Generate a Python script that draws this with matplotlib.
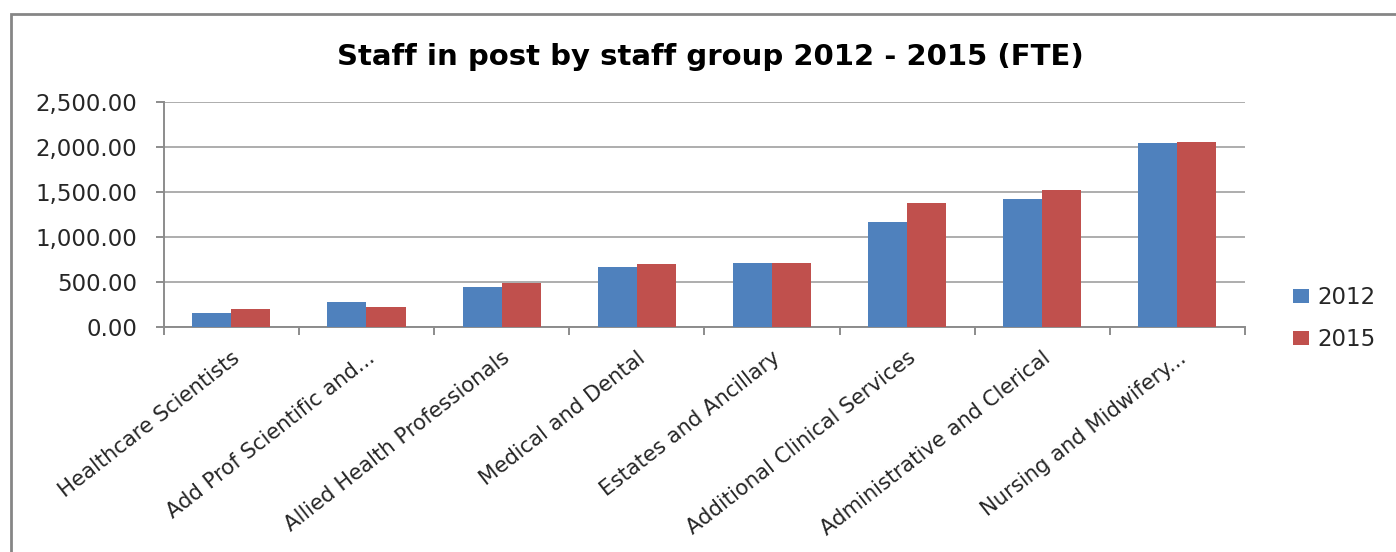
import matplotlib
matplotlib.use("Agg")
import matplotlib.pyplot as plt
import numpy as np
from matplotlib.patches import Rectangle
from matplotlib.ticker import FuncFormatter, FixedLocator

plt.rcParams['font.family'] = ['DejaVu Sans']

categories = [
    "Healthcare Scientists",
    "Add Prof Scientific and...",
    "Allied Health Professionals",
    "Medical and Dental",
    "Estates and Ancillary",
    "Additional Clinical Services",
    "Administrative and Clerical",
    "Nursing and Midwifery...",
]
fte_2012 = [156, 271, 442, 669, 706, 1170, 1423, 2047]
fte_2015 = [193, 219, 487, 695, 707, 1382, 1523, 2058]
series_names = ["2012", "2015"]
y_ticks = [0, 500, 1000, 1500, 2000, 2500]

W, H = 1396, 552
fig = plt.figure(figsize=(W / 100, H / 100), dpi=100)
fig.patch.set_facecolor("white")

# chart frame (only top and left edges fall inside the canvas)
fig.patches.append(Rectangle((11 / W, -0.05), 1.2, 1 - 14 / H + 0.05,
                             transform=fig.transFigure, fill=False,
                             edgecolor="#868686", linewidth=2, clip_on=False))

ax = fig.add_axes([163.7 / W, 1 - 326.7 / H, (1245 - 163.7) / W, (326.7 - 102.3) / H])

x = np.arange(len(categories))
bw = 0.289
ax.bar(x - bw / 2, fte_2012, width=bw, color="#4F81BD", label=series_names[0], zorder=3)
ax.bar(x + bw / 2, fte_2015, width=bw, color="#C0504D", label=series_names[1], zorder=3)

ax.set_xlim(-0.5, len(categories) - 0.5)
ax.set_ylim(0, 2500)
ax.set_yticks(y_ticks)
ax.yaxis.set_major_formatter(FuncFormatter(lambda v, p: f"{v:,.2f}"))
ax.grid(axis="y", color="#ADADAD", linewidth=1.4, zorder=0)

for s in ["top", "right"]:
    ax.spines[s].set_visible(False)
for s in ["left", "bottom"]:
    ax.spines[s].set_color("#8C8C8C")
    ax.spines[s].set_linewidth(1.4)

ax.tick_params(axis="y", length=5.8, width=1.4, color="#8C8C8C", labelsize=16.5,
               labelcolor="#262626", pad=13.5)
ax.set_xticks(x)
ax.set_xticklabels(categories, rotation=38, ha="right", rotation_mode="anchor",
                   fontsize=15.2, color="#262626")
ax.tick_params(axis="x", which="major", length=0, pad=15)
ax.xaxis.set_minor_locator(FixedLocator(np.arange(-0.5, len(categories), 1.0)))
ax.tick_params(axis="x", which="minor", length=6, width=1.4, color="#8C8C8C")

fig.text((330 + 1090) / 2 / W, 1 - 57 / H, "Staff in post by staff group 2012 - 2015 (FTE)",
         ha="center", va="center", fontsize=21, fontweight="bold", color="black")

leg = ax.legend(loc="center left", bbox_to_anchor=(1293 / W, 1 - 318.5 / H),
                bbox_transform=fig.transFigure, frameon=False, fontsize=16.5,
                handlelength=0.7, handleheight=0.57, handletextpad=0.35,
                labelspacing=0.8, borderpad=0, borderaxespad=0)
for t in leg.get_texts():
    t.set_color("#262626")

fig.savefig("out.png", dpi=100, facecolor="white")
